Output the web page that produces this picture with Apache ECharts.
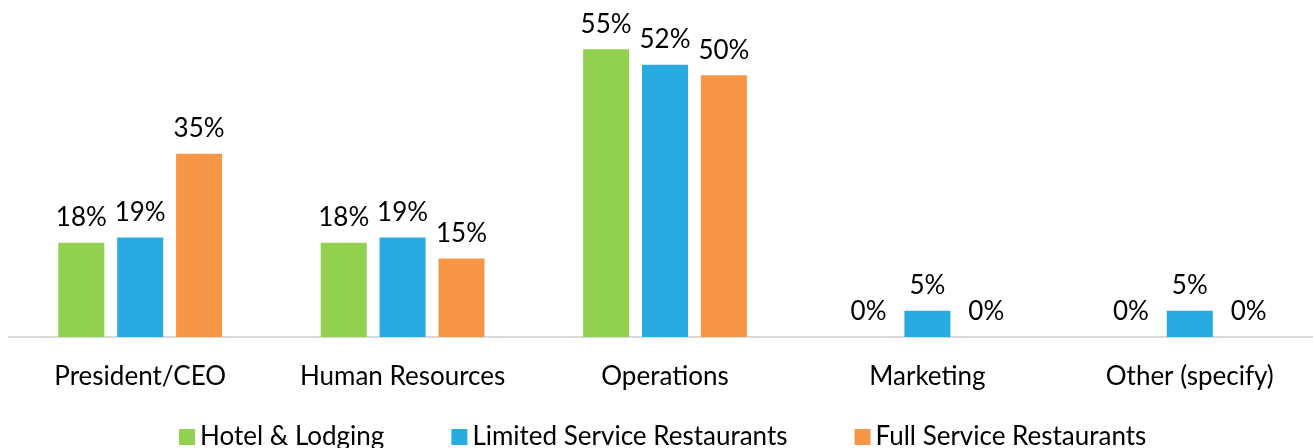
<!DOCTYPE html>
<html>
<head>
<meta charset="utf-8">
<script src="https://cdn.jsdelivr.net/npm/echarts@6/dist/echarts.min.js"></script>
<style>
  html, body { margin: 0; padding: 0; background: #fff; overflow: hidden; }
  #main { width: 1321px; height: 448px; }
</style>
</head>
<body>
<div id="main"></div>
<script>
// categories on x axis
var categories = ["President/CEO", "Human Resources", "Operations", "Marketing", "Other (specify)"];
// series values (percent)
var hotel = [18, 18, 55, 0, 0];
var limited = [19, 19, 52, 5, 5];
var full = [35, 15, 50, 0, 0];

var font = "Lato, 'Open Sans', sans-serif";

function bar(name, data, color) {
  return {
    name: name,
    type: "bar",
    data: data,
    barWidth: 46,
    barGap: "28%",
    itemStyle: { color: color },
    label: {
      show: true,
      position: "top",
      distance: 12,
      formatter: "{c}%",
      color: "#000",
      fontSize: 26,
      fontFamily: font,
    },
  };
}

var chartDom = document.getElementById("main");
var myChart = echarts.init(chartDom);
myChart.setOption({
  animation: false,
  grid: {
    left: 9,
    top: 23,
    right: 0,
    bottom: 111,
    containLabel: false,
  },
  legend: {
    top: 419,
    left: 174,
    itemWidth: 16,
    itemHeight: 16,
    itemGap: 67,
    icon: "rect",
    textStyle: { fontSize: 26, color: "#000", fontFamily: font },
    data: ["Hotel & Lodging", "Limited Service Restaurants", "Full Service Restaurants"],
  },
  xAxis: {
    type: "category",
    data: categories,
    axisLine: { lineStyle: { color: "#d9d9d9", width: 2 } },
    axisTick: { show: false },
    axisLabel: {
      color: "#000",
      fontSize: 26,
      fontFamily: font,
      margin: 27,
      interval: 0,
      hideOverlap: false,
    },
  },
  yAxis: {
    type: "value",
    min: 0,
    max: 60,
    show: false,
    splitLine: { show: false },
  },
  series: [
    bar("Hotel & Lodging", hotel, "#92d050"),
    bar("Limited Service Restaurants", limited, "#29abe2"),
    bar("Full Service Restaurants", full, "#f79646"),
  ],
});
</script>
</body>
</html>
